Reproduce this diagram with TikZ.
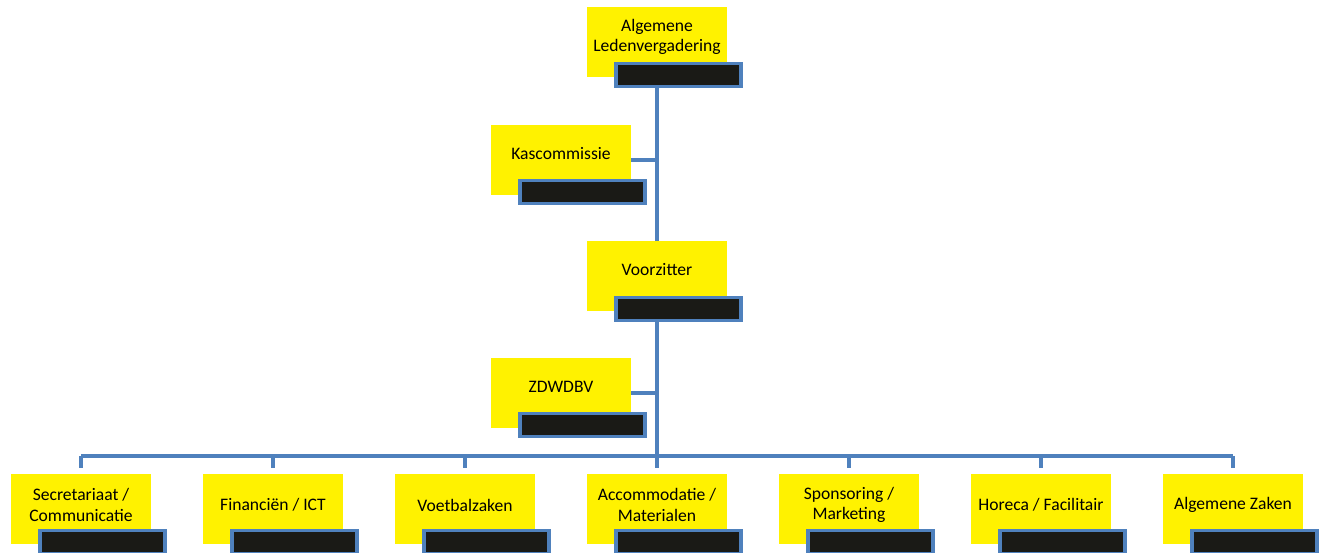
\documentclass[tikz,border=0pt]{standalone}
\usepackage{fontspec}
\setmainfont{Carlito}
\usetikzlibrary{positioning}
\definecolor{lineblue}{RGB}{79,129,189}
\definecolor{basefill}{RGB}{26,26,22}

\begin{document}
\begin{tikzpicture}[x=0.02cm,y=-0.02cm,
   unit/.style={fill=yellow,minimum width=2.8cm,minimum height=1.4cm,inner sep=0pt},
   base/.style={fill=basefill,draw=lineblue,line width=2pt,minimum width=2.5cm,minimum height=0.46cm,inner sep=0pt},
   caption/.style={font=\fontsize{10}{11.5}\selectfont,align=center,inner sep=0pt},
   link/.style={draw=lineblue,line width=2pt}]
\useasboundingbox (0,0) rectangle (1326,553);
% top of the tree
\node[unit] (alv) at (657,42) {};
\node[caption] (alv-t) at (657,37) {Algemene\\Ledenvergadering};
\node[base] (alv-b) at (678.5,75) {};
\node[unit] (kas) at (561,160) {};
\node[caption] (kas-t) at (561,154) {Kascommissie};
\node[base] (kas-b) at (582.5,192) {};
\node[unit] (vz) at (657,276) {};
\node[caption] (vz-t) at (657,270) {Voorzitter};
\node[base] (vz-b) at (678.5,309) {};
\node[unit] (zdw) at (561,393) {};
\node[caption] (zdw-t) at (561,387) {ZDWDBV};
\node[base] (zdw-b) at (582.5,425) {};
\coordinate (bar) at (657,456);
% trunk
\draw[link] (alv.center |- alv-b.south) -- (vz.north);
\draw[link] (kas.east) -- (kas.east -| alv.center);
\draw[link] (vz.center |- vz-b.south) -- (bar);
\draw[link] (zdw.east) -- (zdw.east -| vz.center);
% committees
\foreach \name/\txt [count=\i from 0] in {sec/{Secretariaat /\\Communicatie},
   fin/{Financiën / ICT}, voet/{Voetbalzaken}, acc/{Accommodatie /\\Materialen},
   spon/{Sponsoring /\\Marketing}, hor/{Horeca / Facilitair}, alg/{Algemene Zaken}}{
   \node[unit] (\name) at (81+192*\i,509) {};
   \node[caption] (\name-t) at (81+192*\i,505) {\txt};
   \node[base] (\name-b) at (102.5+192*\i,542) {};
   \draw[link] (\name.north |- bar) -- ([yshift=3]\name.north);
}
\draw[link] (sec.north |- bar) -- (alg.north |- bar);
\end{tikzpicture}
\end{document}
